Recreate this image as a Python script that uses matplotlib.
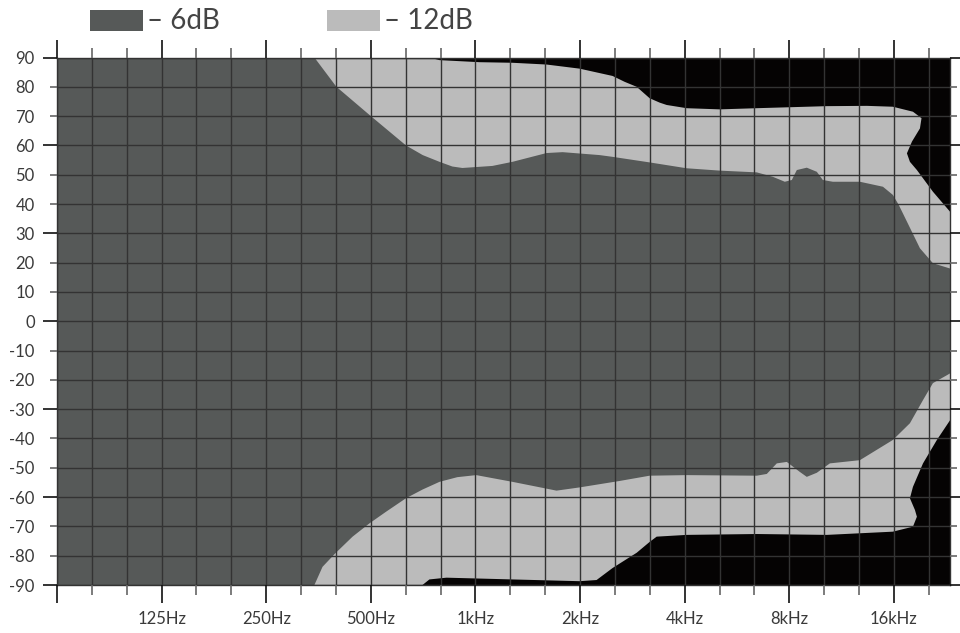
import matplotlib
matplotlib.use("Agg")
import matplotlib.pyplot as plt
from matplotlib.patches import Rectangle

plt.rcParams["font.family"] = ["Lato", "DejaVu Sans"]
plt.rcParams["axes.unicode_minus"] = False

# -6dB region, upper edge (left -> right) and lower edge (right -> left)
dark_top_hz = [62.5, 344, 398, 500, 631, 705, 788, 858, 917, 1119, 1278, 1602, 1781, 2276, 2481,
               3171, 4053, 5045, 6449, 7170, 7765, 8134, 8409, 8982, 9599, 9990, 10675,
               12771, 14878, 15892, 16520, 17440, 19010, 20720, 23200]
dark_top_deg = [90, 90, 80, 70, 60, 56.7, 54.4, 52.8, 52.3, 53, 54.4, 57.4, 57.7, 56.7, 56.1,
                54.2, 52.2, 51.4, 50.8, 49.3, 47.6, 48.2, 51.6, 52.4, 51, 48.2, 47.6,
                47.6, 45.9, 43.1, 39.7, 34, 24.9, 19.8, 18]
dark_bot_hz = [23200, 22740, 20720, 19400, 17790, 15892, 12771, 10467, 9599, 8982, 8575, 7868,
               7363, 6891, 6449, 4053, 3171, 2599, 2276, 1993, 1711, 1278, 1005, 887, 788, 705,
               631, 553, 495, 443, 395, 363, 344, 62.5]
dark_bot_deg = [-17.8, -18.4, -21.1, -26.9, -34.8, -40.5, -47.4, -48.5, -51.7, -53.1, -51.4, -48,
                -48.5, -52.1, -52.7, -52.5, -52.7, -54.5, -55.6, -56.7, -57.8, -54.8, -52.5, -53.2,
                -54.8, -57.4, -60.4, -65, -69, -73.5, -79.2, -83.8, -90, -90]

# -12dB region
light_top_hz = [62.5, 737, 788, 1027, 1278, 1602, 1993, 2481, 2687, 2910, 3171, 3389, 3550,
                4053, 5045, 6449, 10259, 13379, 15892, 18150, 19210, 19010, 18030, 17440,
                17790, 18630, 20720, 23200]
light_top_deg = [90, 90, 89.1, 88.4, 88.2, 87.6, 86.2, 83.7, 81.7, 80, 76.1, 74.6, 73.8,
                 72.7, 72.3, 72.7, 73.4, 73.5, 73.2, 71.5, 69.3, 65.8, 61.3, 57.3,
                 54.4, 51.6, 44.2, 37.4]
light_bot_hz = [23200, 21270, 19400, 18150, 17790, 18390, 18630, 18150, 15892, 10259, 6449,
                4053, 3322, 3171, 2910, 2481, 2231, 1993, 1278, 825, 737, 704, 62.5]
light_bot_deg = [-33.8, -40.5, -48.5, -56.5, -60.4, -64.4, -66.7, -70.1, -71.8, -72.9, -72.6,
                 -72.9, -73.5, -75.3, -79, -84.2, -88.3, -88.7, -88.1, -87.5, -88.1, -90, -90]

x_major = [62.5, 125, 250, 500, 1000, 2000, 4000, 8000, 16000]
x_labels = ["", "125Hz", "250Hz", "500Hz", "1kHz", "2kHz", "4kHz", "8kHz", "16kHz"]
y_major = [-90, -60, -30, 0, 30, 60, 90]
y_minor = [-80, -70, -50, -40, -20, -10, 10, 20, 40, 50, 70, 80]

DARK = "#565958"
LIGHT = "#bbbbbb"
BLACK = "#050303"
GRID = "#333333"
TEXT = "#3a3a3a"

fig = plt.figure(figsize=(9.6, 6.33), dpi=100)
ax = fig.add_axes([57 / 960, 1 - 585 / 633, (950 - 57) / 960, (585 - 57.5) / 633])
ax.set_facecolor(BLACK)
ax.set_xscale("log")
ax.set_xlim(62.5, 23200)
ax.set_ylim(-90, 90)

ax.fill(light_top_hz + light_bot_hz, light_top_deg + light_bot_deg, color=LIGHT, lw=0, zorder=1)
ax.fill(dark_top_hz + dark_bot_hz, dark_top_deg + dark_bot_deg, color=DARK, lw=0, zorder=1.1)

# third-octave minor grid
x_minor = [1000 * 2 ** (k / 3) for k in range(-12, 14) if k % 3 != 0]
ax.set_xticks(x_major)
ax.set_xticklabels(x_labels)
ax.set_xticks(x_minor, minor=True)
ax.set_xticklabels([], minor=True)
ax.set_yticks(y_major)
ax.set_yticklabels([str(v) for v in y_major])
ax.set_yticks(y_minor, minor=True)
ax.set_yticklabels([str(v) for v in y_minor], minor=True)

ax.set_axisbelow(False)
ax.grid(which="both", color=GRID, lw=1.0)

ax.tick_params(axis="x", which="major", direction="out", length=13, width=1.2, color="#111111",
               top=True, bottom=True, labelsize=12, labelcolor=TEXT, pad=6)
ax.tick_params(axis="x", which="minor", direction="out", length=7, width=1.2, color="#666666",
               top=True, bottom=True)
ax.tick_params(axis="y", which="major", direction="out", length=10, width=1.2, color="#111111",
               left=True, right=True, labelsize=12, labelcolor=TEXT, pad=6)
ax.tick_params(axis="y", which="minor", direction="out", length=5, width=1.2, color="#666666",
               left=True, right=True, labelsize=12, labelcolor=TEXT, pad=11)
for s in ax.spines.values():
    s.set_color(GRID)
    s.set_linewidth(1.0)

# legend drawn by hand at the top
fig.add_artist(Rectangle((90 / 960, 1 - 31 / 633), 53 / 960, 21 / 633,
                         transform=fig.transFigure, color=DARK, lw=0))
fig.text(147 / 960, 1 - 21 / 633, "– 6dB", fontsize=20, color="#444444", va="center", ha="left")
fig.add_artist(Rectangle((327 / 960, 1 - 31 / 633), 53 / 960, 21 / 633,
                         transform=fig.transFigure, color=LIGHT, lw=0))
fig.text(384 / 960, 1 - 21 / 633, "– 12dB", fontsize=20, color="#444444", va="center", ha="left")

fig.savefig("out.png", dpi=100)
